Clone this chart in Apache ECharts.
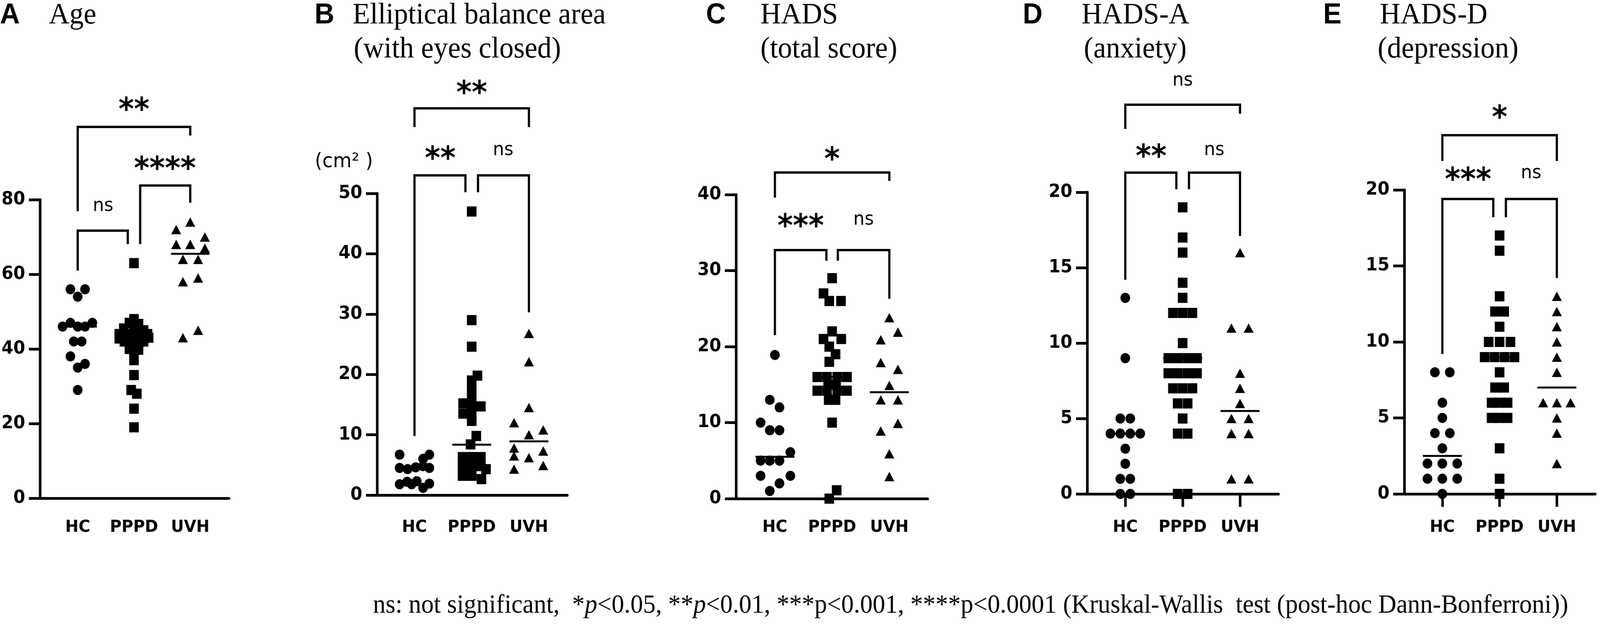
<!DOCTYPE html>
<html><head><meta charset="utf-8">
<script src="https://cdn.jsdelivr.net/npm/echarts@6/dist/echarts.min.js"></script>
<style>html,body{margin:0;padding:0;background:#fff;overflow:hidden}
#wrap{position:absolute;left:0;top:0;width:4324px;height:1602px;transform-origin:0 0}
#c{width:4324px;height:1602px}</style>
</head><body><div id="wrap"><div id="c"></div></div>
<script>
// ---------- DATA ----------
const groups = ['HC', 'PPPD', 'UVH'];

// Each point: [horizontal jitter within its group (category units), value]
// A: Age
const ageHC = [[-0.13,56],[0.13,56],[0,54],[-0.27,46],[-0.13,47],[0,46],[0.13,46],[0.26,47],[-0.07,42],[0.07,42],[-0.13,38],[0.13,36],[0,35],[0,29]];
const agePPPD = [[0,63],[0,48],[-0.08,47],[0.08,46.7],[-0.18,45.5],[0,45],[0.17,45],[-0.26,44],[-0.09,44],[0.08,44],[0.24,44],[-0.26,42.8],[-0.09,43],[0.08,43],[0.26,43],[-0.17,42],[0,42],[0.17,42],[-0.08,41],[0.08,40.8],[-0.08,40],[0.08,39.8],[0,39],[0,37],[0,33],[-0.05,29],[0.05,28],[0,24],[0,19]];
const ageUVH = [[-0.25,72],[0,74],[0.26,70],[-0.25,68],[0,68],[0.26,67],[-0.13,64],[0.14,64],[-0.13,58],[0.14,59],[-0.13,43],[0.14,45]];
const ageMedians = [46, 43, 65.5];

// B: Elliptical balance area (cm2)
const balHC = [[-0.26,6.7],[0.26,6.7],[0.15,6.0],[-0.26,4.5],[-0.12,4.3],[0.02,4.6],[0.15,4.8],[0.26,4.5],[-0.26,1.8],[-0.13,2.2],[-0.05,1.8],[0.04,2.3],[0.15,1.2],[0.26,1.9]];
const balPPPD = [[0,47],[0,29],[0,24.6],[0.1,19.8],[0,19],[0,17.5],[0,16],[-0.15,15.2],[0.16,14.7],[-0.15,13.5],[0,14.5],[0,13],[0,12.3],[0.08,9.8],[-0.02,8.4],[-0.16,6.3],[0,6.3],[0.16,6.3],[-0.16,4.8],[0,4.8],[0.16,4.8],[0.25,4.3],[-0.16,3.2],[0,3.2],[0.17,2.65]];
const balUVH = [[0,26.8],[0,22.1],[0,14.5],[-0.26,12.0],[0.25,10.8],[0,10.0],[-0.26,7.8],[-0.26,6.5],[0.25,7.3],[0,6.2],[0.25,4.9],[-0.26,4.3]];
const balMedians = [4.4, 8.35, 8.9];

// C: HADS total score
const hadsHC = [[0,18.9],[-0.09,13],[0.08,12],[-0.25,10],[-0.09,9],[0.08,9],[0.27,6.1],[-0.25,5],[-0.09,5],[0.08,5],[-0.25,3],[0.27,3],[0.08,2],[-0.09,1]];
const hadsPPPD = [[0,29],[-0.15,27],[-0.05,26],[0.155,26],[0,22],[-0.15,21],[0.16,21],[-0.05,20],[0.06,19],[-0.05,18],[-0.26,16],[-0.09,16],[0.09,16],[0.26,16],[-0.07,15],[0.07,15],[-0.26,14.2],[-0.09,14.2],[0.09,14.2],[0.26,14.2],[-0.06,13],[0.06,13],[0,10],[0.08,1.1],[-0.05,0]];
const hadsUVH = [[0,23.8],[0.15,21.9],[-0.15,20.9],[-0.15,17.9],[0.15,17],[0,14.9],[-0.15,13],[0.15,13],[0.15,9.9],[-0.15,8.9],[0,5.9],[0,2.9]];
const hadsMedians = [5.5, 16, 14];

// D: HADS-A (anxiety)
const anxHC = [[0,13],[0,9],[-0.087,5],[0.087,5],[-0.26,4],[-0.087,4],[0.087,4],[0.26,4],[0,3],[0,2],[-0.087,1],[0.087,1],[-0.087,0],[0.087,0]];
const anxPPPD = [[0,19],[0,17],[0,16],[0,14],[0,13],[-0.17,12],[0,12],[0.17,12],[0,10],[-0.25,9],[-0.085,9],[0.085,9],[0.25,9],[-0.25,8],[-0.085,8],[0.085,8],[0.25,8],[-0.17,7],[0,7],[0.17,7],[-0.087,6],[0.087,6],[0,5],[-0.087,4],[0.087,4],[-0.087,0],[0.087,0]];
const anxUVH = [[0,16],[-0.15,11],[0.15,11],[0,8],[0,7],[0,6],[-0.15,5],[0.15,5],[-0.15,4],[0.15,4],[-0.15,1],[0.15,1]];
const anxMedians = [4, 9, 5.5];

// E: HADS-D (depression)
const depHC = [[-0.13,8],[0.13,8],[0,6],[0,5],[-0.13,4],[0.13,4],[0,3],[-0.26,2],[0,2],[0.26,2],[-0.26,1],[0,1],[0.26,1],[0,0]];
const depPPPD = [[0,17],[0,16],[0,13],[-0.08,12],[0.08,12],[0,11],[-0.19,10],[0,10],[0.19,10],[-0.26,9],[-0.087,9],[0.087,9],[0.26,9],[0,8],[-0.08,7],[0.08,7],[-0.14,6],[0,6],[0.14,6],[-0.14,5],[0,5],[0.14,5],[0,3],[0,1],[0,0]];
const depUVH = [[0,13],[0,12],[0,11],[0,10],[0,9],[0,8],[-0.24,6],[0,6],[0.24,6],[0,5],[0,4],[0,2]];
const depMedians = [2.5, 9, 7];

// Significance brackets: [fromX, toX, topY, leftLegEndY, rightLegEndY]
const ageBrackets = [[1,3,99.5,76.9,97.2],[2.11,3,83.8,68.1,79.2],[1,1.89,71.7,61.0,68.1]];
const balBrackets = [[1,3,64.1,61.0,61.0],[1,1.89,53.0,9.8,50.2],[2.11,3,53.0,50.2,30.3]];
const hadsBrackets = [[1,3,42.9,39.6,41.8],[1,1.9,32.7,21.5,31.3],[2.1,3,32.7,31.3,26.3]];
const anxBrackets = [[1,3,25.8,24.2,25.2],[1,1.89,21.3,14.2,20.2],[2.11,3,21.3,20.2,17.1]];
const depBrackets = [[1,3,23.6,21.9,21.9],[1,1.89,19.4,9.2,18.2],[2.11,3,19.4,18.2,14.2]];

// Bracket labels: [x, y, text, kind]
const ageLabels = [[2,105.4,'**','star'],[2.55,89.6,'****','star'],[1.45,77.9,'ns','ns']];
const balLabels = [[2,67.5,'**','star'],[1.45,56.6,'**','star'],[2.55,56.9,'ns','ns'],[0.275,55.2,'(cm² )','unit']];
const hadsLabels = [[2,45.3,'*','star'],[1.45,36.5,'***','star'],[2.55,36.5,'ns','ns']];
const anxLabels = [[2,27.3,'ns','ns'],[1.45,22.7,'**','star'],[2.55,22.7,'ns','ns']];
const depLabels = [[2,25.1,'*','star'],[1.45,21.0,'***','star'],[2.55,21.0,'ns','ns']];

// Y-axis ranges
const yMaxes = [80, 50, 40, 20, 20];
const yIntervals = [20, 10, 10, 5, 5];

// Titles
const panelLetters = ['A', 'B', 'C', 'D', 'E'];
const panelTitles = [['Age'], ['Elliptical balance area', '(with eyes closed)'], ['HADS', '(total score)'], ['HADS-A', '(anxiety)'], ['HADS-D', '(depression)']];
const footNote = 'ns: not significant,  *{i|p}<0.05, **{i|p}<0.01, ***p<0.001, ****p<0.0001 (Kruskal-Wallis  test (post-hoc Dann-Bonferroni))';

// ---------- LAYOUT / STYLE (design canvas 4324 x 1602) ----------
const W0 = 4324, H0 = 1602;
const layout = [
  {left:108, top:511, width:511, height:764, xMin:0.329, xMax:3.69, margin:53, ticks:false},
  {left:1019, top:495, width:514, height:772, xMin:0.346, xMax:3.67, margin:61, ticks:false},
  {left:1989, top:498, width:518, height:778, xMin:0.32, xMax:3.67, margin:52, ticks:false},
  {left:2938, top:492, width:517, height:772, xMin:0.335, xMax:3.67, margin:64, ticks:true},
  {left:3795, top:486, width:516, height:778, xMin:0.335, xMax:3.67, margin:64, ticks:true}
];
const titleLayout = [
  {lx:0, tx:[132]},
  {lx:850, tx:[953, 956]},
  {lx:1908, tx:[2055, 2055]},
  {lx:2764, tx:[2923, 2929]},
  {lx:3576, tx:[3729, 3723]}
];
const panelData = [
  {pts:[ageHC, agePPPD, ageUVH], med:ageMedians, br:ageBrackets, lab:ageLabels},
  {pts:[balHC, balPPPD, balUVH], med:balMedians, br:balBrackets, lab:balLabels},
  {pts:[hadsHC, hadsPPPD, hadsUVH], med:hadsMedians, br:hadsBrackets, lab:hadsLabels},
  {pts:[anxHC, anxPPPD, anxUVH], med:anxMedians, br:anxBrackets, lab:anxLabels},
  {pts:[depHC, depPPPD, depUVH], med:depMedians, br:depBrackets, lab:depLabels}
];
const SANS = '"Liberation Sans", Arial, sans-serif';
const VERD = '"DejaVu Sans", Verdana, sans-serif';
const SERIF = '"Liberation Serif", "Times New Roman", serif';
const symbols = ['circle', 'rect', 'triangle'];
const symbolSizes = [26, [26,26], [27,24]];
const MED_HALF = 0.34;

// fit the design canvas to the actual viewport
const wrap = document.getElementById('wrap');
const sx = (window.innerWidth || W0) / W0, sy = (window.innerHeight || H0) / H0;
wrap.style.transform = 'scale(' + sx + ',' + sy + ')';

const grids = [], xAxes = [], yAxes = [], series = [];
layout.forEach((L, i) => {
  grids.push({left:L.left, top:L.top, width:L.width, height:L.height});
  xAxes.push({
    gridIndex:i, type:'value', min:L.xMin, max:L.xMax,
    splitLine:{show:false},
    axisLine:{show:true, onZero:false, lineStyle:{color:'#000', width:7}},
    axisTick:{show:L.ticks, customValues:[1,2,3], length:33, lineStyle:{color:'#000', width:7}},
    axisLabel:{customValues:[1,2,3], formatter:v => groups[Math.round(v)-1], margin:L.margin,
      fontFamily:VERD, fontWeight:'bold', fontSize:43, color:'#000'}
  });
  yAxes.push({
    gridIndex:i, type:'value', min:0, max:yMaxes[i], interval:yIntervals[i],
    splitLine:{show:false},
    axisLine:{show:true, onZero:false, lineStyle:{color:'#000', width:7}},
    axisTick:{show:true, length:30, lineStyle:{color:'#000', width:7}},
    axisLabel:{margin:40, fontFamily:VERD, fontWeight:'bold', fontSize:46, color:'#000'}
  });
  const P = panelData[i];
  series.push({
    type:'custom', xAxisIndex:i, yAxisIndex:i, clip:false, silent:true, z:2,
    data:P.med.map((m, g) => [g+1, m]),
    renderItem:(params, api) => {
      const a = api.coord([api.value(0)-MED_HALF, api.value(1)]);
      const b = api.coord([api.value(0)+MED_HALF, api.value(1)]);
      return {type:'line', shape:{x1:a[0], y1:a[1], x2:b[0], y2:b[1]}, style:{stroke:'#000', lineWidth:5}};
    }
  });
  P.pts.forEach((arr, g) => {
    series.push({
      type:'scatter', xAxisIndex:i, yAxisIndex:i, silent:true, z:3,
      symbol:symbols[g], symbolSize:symbolSizes[g],
      itemStyle:{color:'#000', opacity:1},
      data:arr.map(p => [g+1+p[0], p[1]])
    });
  });
  series.push({
    type:'custom', xAxisIndex:i, yAxisIndex:i, clip:false, silent:true, z:4,
    data:P.br,
    renderItem:(params, api) => {
      const x1 = api.value(0), x2 = api.value(1), yt = api.value(2), yl = api.value(3), yr = api.value(4);
      const pts = [api.coord([x1,yl]), api.coord([x1,yt]), api.coord([x2,yt]), api.coord([x2,yr])];
      return {type:'polyline', shape:{points:pts}, style:{stroke:'#000', lineWidth:6, fill:null, lineJoin:'miter', lineCap:'butt'}};
    }
  });
  const labs = P.lab;
  series.push({
    type:'custom', xAxisIndex:i, yAxisIndex:i, clip:false, silent:true, z:5,
    data:labs.map(l => [l[0], l[1]]),
    renderItem:(params, api) => {
      const l = labs[params.dataIndex];
      const c = api.coord([api.value(0), api.value(1)]);
      let font, dy, align = 'center';
      if (l[3] === 'star') { font = 'bold 80px ' + VERD; dy = 0.214*80; }
      else if (l[3] === 'ns') { font = '48px ' + VERD; dy = -0.073*48; }
      else { font = '52px ' + VERD; dy = 0; align = 'right'; }
      return {type:'text', x:c[0], y:c[1]+dy,
        style:{text:l[2], font:font, fill:'#000', align:align, verticalAlign:'middle'}};
    }
  });
});

const graphics = [];
titleLayout.forEach((T, i) => {
  graphics.push({type:'text', x:T.lx, y:40, style:{text:panelLetters[i], font:'bold 74px ' + SANS, fill:'#000', align:'left', verticalAlign:'middle'}});
  panelTitles[i].forEach((line, k) => {
    graphics.push({type:'text', x:T.tx[k], y:40 + k*87, style:{text:line, font:'77px ' + SERIF, fill:'#000', align:'left', verticalAlign:'middle'}});
  });
});
graphics.push({type:'text', x:1008, y:1550, style:{text:footNote, font:'68px ' + SERIF, fill:'#000', align:'left', verticalAlign:'middle',
  rich:{i:{fontStyle:'italic', fontSize:68, fontFamily:'"Liberation Serif"'}}}});

const chart = echarts.init(document.getElementById('c'), null, {renderer:'canvas', width:W0, height:H0});
chart.setOption({
  animation:false,
  backgroundColor:'#fff',
  grid:grids, xAxis:xAxes, yAxis:yAxes, series:series,
  graphic:graphics
});
</script></body></html>
